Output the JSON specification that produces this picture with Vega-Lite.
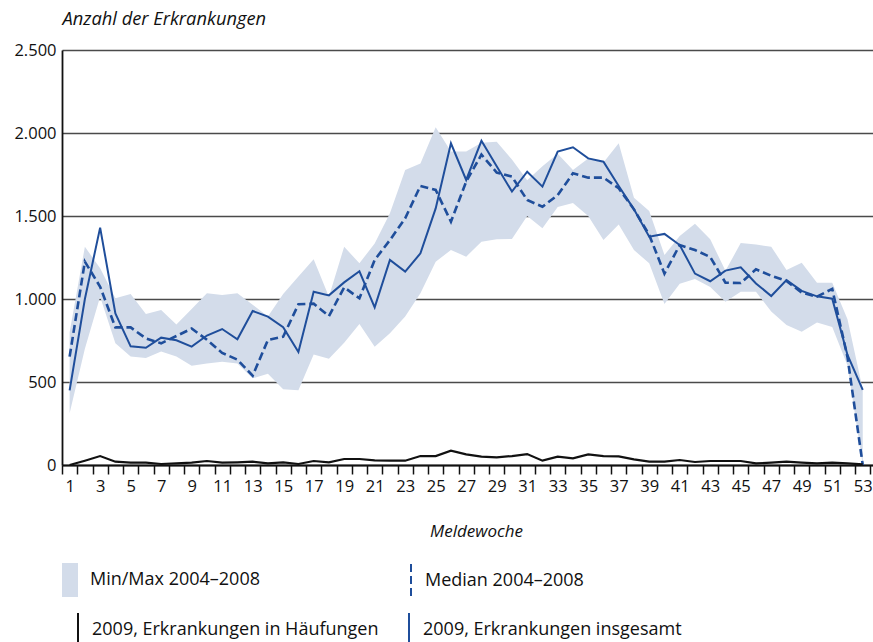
{
  "$schema": "https://vega.github.io/schema/vega-lite/v6.json",
  "width": 811,
  "height": 415,
  "autosize": {"type": "none"},
  "padding": {"left": 62, "top": 50, "right": 0, "bottom": 177},
  "background": "white",
  "config": {
    "view": {"stroke": null},
    "font": "Open Sans",
    "axis": {"labelFont": "Open Sans", "titleFont": "Open Sans", "labelColor": "#111", "titleColor": "#111"},
    "legend": {"labelFont": "Open Sans", "labelFontSize": 18, "labelColor": "#111", "labelLimit": 500, "padding": 0, "titleLimit": 0}
  },
  "data": {
    "values": [
      {"week": 1, "min": 311, "max": 800, "median": 653, "total": 450, "cluster": 0},
      {"week": 2, "min": 700, "max": 1315, "median": 1225, "total": 1000, "cluster": 26},
      {"week": 3, "min": 1014, "max": 1185, "median": 1074, "total": 1430, "cluster": 54},
      {"week": 4, "min": 733, "max": 1004, "median": 829, "total": 913, "cluster": 20},
      {"week": 5, "min": 653, "max": 1030, "median": 829, "total": 715, "cluster": 14},
      {"week": 6, "min": 645, "max": 910, "median": 763, "total": 706, "cluster": 14},
      {"week": 7, "min": 683, "max": 934, "median": 733, "total": 767, "cluster": 6},
      {"week": 8, "min": 653, "max": 847, "median": 777, "total": 751, "cluster": 10},
      {"week": 9, "min": 598, "max": 940, "median": 822, "total": 713, "cluster": 14},
      {"week": 10, "min": 612, "max": 1034, "median": 755, "total": 780, "cluster": 24},
      {"week": 11, "min": 622, "max": 1024, "median": 675, "total": 819, "cluster": 14},
      {"week": 12, "min": 612, "max": 1034, "median": 635, "total": 757, "cluster": 16},
      {"week": 13, "min": 522, "max": 965, "median": 538, "total": 928, "cluster": 20},
      {"week": 14, "min": 550, "max": 895, "median": 753, "total": 894, "cluster": 10},
      {"week": 15, "min": 457, "max": 1030, "median": 773, "total": 830, "cluster": 16},
      {"week": 16, "min": 450, "max": 1135, "median": 968, "total": 681, "cluster": 6},
      {"week": 17, "min": 665, "max": 1240, "median": 972, "total": 1044, "cluster": 24},
      {"week": 18, "min": 640, "max": 1014, "median": 897, "total": 1022, "cluster": 16},
      {"week": 19, "min": 737, "max": 1315, "median": 1070, "total": 1100, "cluster": 36},
      {"week": 20, "min": 849, "max": 1215, "median": 1004, "total": 1167, "cluster": 36},
      {"week": 21, "min": 713, "max": 1335, "median": 1235, "total": 950, "cluster": 28},
      {"week": 22, "min": 793, "max": 1516, "median": 1355, "total": 1235, "cluster": 26},
      {"week": 23, "min": 894, "max": 1777, "median": 1486, "total": 1165, "cluster": 26},
      {"week": 24, "min": 1034, "max": 1817, "median": 1681, "total": 1275, "cluster": 54},
      {"week": 25, "min": 1225, "max": 2034, "median": 1657, "total": 1546, "cluster": 54},
      {"week": 26, "min": 1295, "max": 1888, "median": 1466, "total": 1938, "cluster": 86},
      {"week": 27, "min": 1255, "max": 1888, "median": 1707, "total": 1717, "cluster": 64},
      {"week": 28, "min": 1345, "max": 1942, "median": 1870, "total": 1953, "cluster": 50},
      {"week": 29, "min": 1360, "max": 1948, "median": 1762, "total": 1800, "cluster": 46},
      {"week": 30, "min": 1362, "max": 1840, "median": 1737, "total": 1647, "cluster": 54},
      {"week": 31, "min": 1500, "max": 1715, "median": 1596, "total": 1767, "cluster": 66},
      {"week": 32, "min": 1426, "max": 1800, "median": 1556, "total": 1677, "cluster": 26},
      {"week": 33, "min": 1554, "max": 1875, "median": 1626, "total": 1888, "cluster": 50},
      {"week": 34, "min": 1578, "max": 1777, "median": 1757, "total": 1914, "cluster": 40},
      {"week": 35, "min": 1500, "max": 1847, "median": 1731, "total": 1847, "cluster": 64},
      {"week": 36, "min": 1355, "max": 1822, "median": 1731, "total": 1827, "cluster": 54},
      {"week": 37, "min": 1449, "max": 1938, "median": 1667, "total": 1681, "cluster": 52},
      {"week": 38, "min": 1295, "max": 1610, "median": 1540, "total": 1540, "cluster": 34},
      {"week": 39, "min": 1215, "max": 1530, "median": 1386, "total": 1375, "cluster": 20},
      {"week": 40, "min": 970, "max": 1265, "median": 1153, "total": 1392, "cluster": 20},
      {"week": 41, "min": 1092, "max": 1380, "median": 1325, "total": 1325, "cluster": 30},
      {"week": 42, "min": 1121, "max": 1454, "median": 1295, "total": 1153, "cluster": 18},
      {"week": 43, "min": 1072, "max": 1360, "median": 1253, "total": 1107, "cluster": 24},
      {"week": 44, "min": 984, "max": 1170, "median": 1098, "total": 1171, "cluster": 24},
      {"week": 45, "min": 1044, "max": 1337, "median": 1096, "total": 1191, "cluster": 24},
      {"week": 46, "min": 1044, "max": 1328, "median": 1179, "total": 1094, "cluster": 10},
      {"week": 47, "min": 924, "max": 1315, "median": 1140, "total": 1018, "cluster": 14},
      {"week": 48, "min": 843, "max": 1175, "median": 1109, "total": 1114, "cluster": 20},
      {"week": 49, "min": 803, "max": 1219, "median": 1038, "total": 1049, "cluster": 14},
      {"week": 50, "min": 858, "max": 1098, "median": 1014, "total": 1016, "cluster": 10},
      {"week": 51, "min": 831, "max": 1098, "median": 1061, "total": 1002, "cluster": 14},
      {"week": 52, "min": 600, "max": 878, "median": 650, "total": 663, "cluster": 10},
      {"week": 53, "min": 0, "max": 455, "median": 0, "total": 452, "cluster": 4}
    ]
  },
  "encoding": {
    "x": {
      "field": "week",
      "type": "quantitative",
      "scale": {"domain": [0.5, 54], "range": [0, 816], "nice": false, "zero": false},
      "axis": {
        "values": [1,2,3,4,5,6,7,8,9,10,11,12,13,14,15,16,17,18,19,20,21,22,23,24,25,26,27,28,29,30,31,32,33,34,35,36,37,38,39,40,41,42,43,44,45,46,47,48,49,50,51,52,53,54],
        "tickCount": 60,
        "tickOffset": -7.625,
        "labelOffset": 7.625,
        "labelExpr": "(datum.value % 2 == 1 && datum.value <= 53) ? datum.label : ''",
        "labelOverlap": false,
        "labelFlush": false,
        "labelFontSize": 16.5,
        "labelPadding": 4,
        "ticks": true,
        "tickSize": 9,
        "tickColor": "#111",
        "tickWidth": 1.5,
        "domain": true,
        "domainColor": "#111",
        "domainWidth": 1.8,
        "grid": false,
        "title": "Meldewoche",
        "titleFontSize": 17,
        "titleFontStyle": "italic",
        "titleFontWeight": "normal",
        "titleX": 414,
        "titleY": 71,
        "titleAlign": "center",
        "titleBaseline": "alphabetic"
      }
    },
    "y": {
      "type": "quantitative",
      "scale": {"domain": [0, 2500], "nice": false},
      "axis": {
        "values": [0, 500, 1000, 1500, 2000, 2500],
        "labelExpr": "replace(format(datum.value, ',d'), ',', '.')",
        "labelFontSize": 16.5,
        "labelPadding": 6,
        "ticks": false,
        "domain": true,
        "domainColor": "#111",
        "domainWidth": 1.8,
        "grid": true,
        "gridColor": "#4a4a4a",
        "gridWidth": 1.6,
        "title": "Anzahl der Erkrankungen",
        "titleFontSize": 18.3,
        "titleFontStyle": "italic",
        "titleFontWeight": "normal",
        "titleAngle": 0,
        "titleAlign": "left",
        "titleBaseline": "alphabetic",
        "titleX": 0,
        "titleY": -26
      }
    }
  },
  "layer": [
    {
      "mark": {"type": "area", "interpolate": "linear"},
      "encoding": {
        "y": {"field": "min"},
        "y2": {"field": "max"},
        "fill": {
          "datum": "Min/Max 2004–2008",
          "type": "nominal",
          "scale": {"range": ["#d3dcea"]},
          "legend": {
            "orient": "none",
            "legendX": -9,
            "legendY": 513,
            "title": null,
            "symbolType": "M-0.47,-1H0.47V1H-0.47Z",
            "symbolSize": 1156,
            "symbolStrokeWidth": 0,
            "labelOffset": 3
          }
        }
      }
    },
    {
      "mark": {"type": "line", "color": "#1f4e9b", "strokeWidth": 2.6},
      "encoding": {
        "y": {"field": "median"},
        "strokeDash": {
          "datum": "Median 2004–2008",
          "type": "nominal",
          "scale": {"range": [[8, 4]]},
          "legend": {
            "orient": "none",
            "legendX": 331,
            "legendY": 513,
            "title": null,
            "symbolType": "M0,-1V1",
            "symbolSize": 1156,
            "symbolStrokeWidth": 2,
            "symbolStrokeColor": "#1f4e9b",
            "labelOffset": -4
          }
        }
      }
    },
    {
      "mark": {"type": "line", "strokeWidth": 2.2},
      "encoding": {
        "y": {"field": "cluster"},
        "stroke": {
          "datum": "2009, Erkrankungen in Häufungen",
          "type": "nominal",
          "scale": {"domain": ["2009, Erkrankungen in Häufungen", "2009, Erkrankungen insgesamt"], "range": ["#111111", "#1f4e9b"]},
          "legend": {
            "orient": "none",
            "legendX": -2,
            "legendY": 562,
            "title": null,
            "direction": "horizontal",
            "columns": 2,
            "columnPadding": 12,
            "symbolType": "M0,-1V1",
            "symbolSize": 1156,
            "symbolStrokeWidth": 2,
            "labelOffset": -4
          }
        }
      }
    },
    {
      "mark": {"type": "line", "strokeWidth": 2},
      "encoding": {
        "y": {"field": "total"},
        "stroke": {"datum": "2009, Erkrankungen insgesamt", "type": "nominal"}
      }
    }
  ]
}
